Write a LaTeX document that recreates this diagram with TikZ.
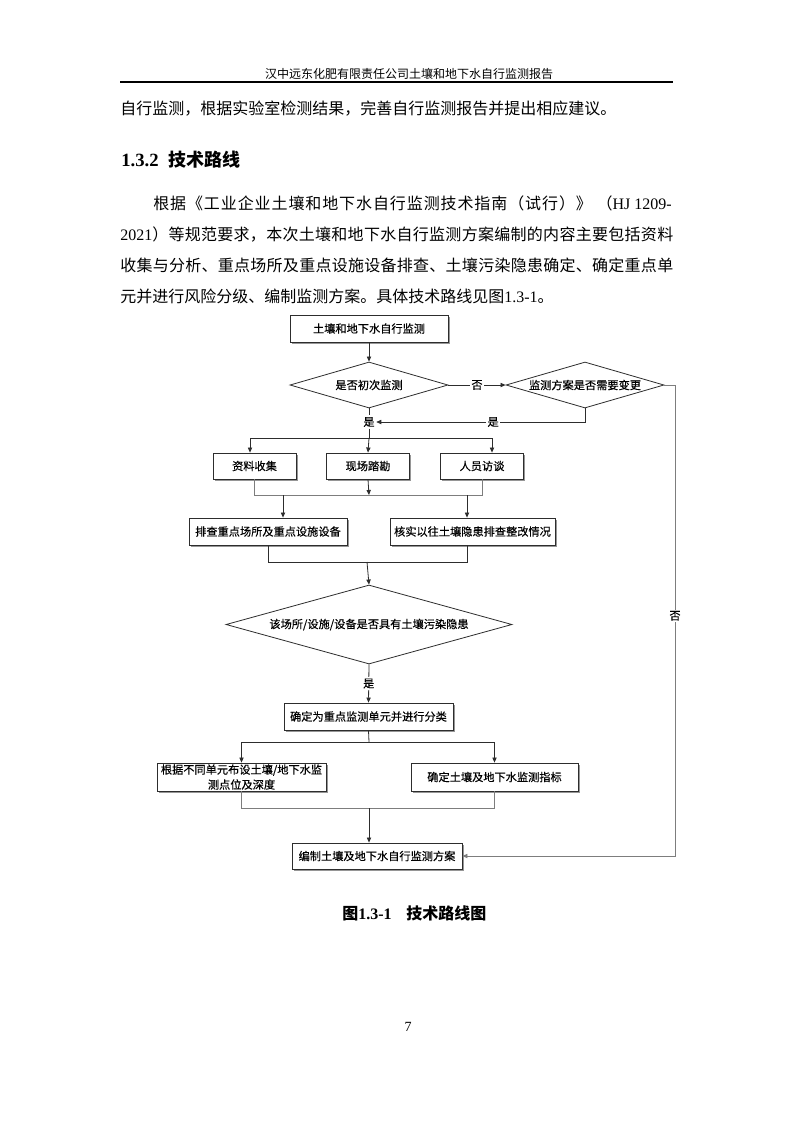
\documentclass[tikz,border=0pt]{standalone}
\usepackage{fontspec}
\setmainfont{Noto Sans CJK SC}
\newfontfamily\tnr{Liberation Serif}
\newfontfamily\chartfont[FakeBold=0.35]{Noto Sans CJK SC}
\usetikzlibrary{positioning,shapes.geometric,arrows.meta,shadows}
% even gaps between characters, for justified lines
\def\spreadfirst#1{#1\spreadnext}
\def\spreadnext#1{\ifx#1\relax\else\hskip 0pt plus 1fil#1\expandafter\spreadnext\fi}
\newcommand{\spreadtext}[1]{\spreadfirst#1\relax}
\newcommand{\justline}[2][414.75pt]{\makebox[#1][s]{#2}}
\definecolor{cline}{RGB}{45,45,45}
\definecolor{cgrey}{RGB}{125,125,125}
\definecolor{cshadow}{RGB}{150,150,150}

\begin{document}
\begin{tikzpicture}[x=0.75pt, y=-0.75pt,
    >={Triangle[length=3.8pt,width=3.2pt]},
    box/.style={draw=cline, fill=white, line width=0.6pt, inner sep=1pt,
                minimum height=20.25pt, font=\chartfont\fontsize{8.4pt}{11.25pt}\selectfont,
                drop shadow={shadow xshift=1.4pt, shadow yshift=-1.4pt, fill=cshadow, opacity=1}},
    decision/.style={diamond, draw=cline, fill=white, line width=0.6pt, inner sep=0pt,
                aspect=3.4, font=\chartfont\fontsize{8.4pt}{11.25pt}\selectfont},
    arr/.style={->, draw=cline, line width=0.6pt},
    link/.style={draw=cgrey, line width=0.6pt},
    lbl/.style={fill=white, inner sep=1pt, font=\chartfont\fontsize{8.4pt}{11.25pt}\selectfont},
    body/.style={inner sep=0pt, anchor=base west, font=\fontsize{12pt}{15pt}\selectfont},
  ]
  \fill[white] (0,0) rectangle (793,1122);
  \useasboundingbox (0,0) rectangle (793,1122);

  % page header
  \node[inner sep=0pt, anchor=base, font=\fontsize{9pt}{11pt}\selectfont] (header) at (409,78.5)
    {汉中远东化肥有限责任公司土壤和地下水自行监测报告};
  \draw[line width=1pt] (120,82) -- (673,82);

  % text
  \node[body] (prev) at (120,114.5) {自行监测，根据实验室检测结果，完善自行监测报告并提出相应建议。};
  \node[body, font=\fontsize{13.5pt}{16pt}\selectfont\bfseries] (title) at (121,166.8)
    {{\tnr\fontsize{14pt}{16pt}\selectfont 1.3.2}\hspace{7.5pt}技术路线};
  \node[body] (line1) at (153,209) {\justline[329pt]{\spreadtext{根据《工业企业土壤和地下水自行监测技术指南（试行）》}}};
  \node[body, anchor=base east] (line1b) at (672,209) {（{\tnr HJ 1209-}};
  \node[body] (line2) at (120,240) {\justline{{\tnr 2021}\spreadtext{）等规范要求，本次土壤和地下水自行监测方案编制的内容主要包括资料}}};
  \node[body] (line3) at (120,271) {\justline{\spreadtext{收集与分析、重点场所及重点设施设备排查、土壤污染隐患确定、确定重点单}}};
  \node[body] (line4) at (120,302) {元并进行风险分级、编制监测方案。具体技术路线见图{\tnr 1.3-1}。};

  % flow chart
  \node[box, minimum width=118.5pt] (start) at (369,328.5) {土壤和地下水自行监测};
  \node[decision, minimum width=118.5pt, minimum height=34.5pt] (first) at (369,385) {是否初次监测};
  \node[decision, minimum width=118.5pt, minimum height=34.5pt] (change) at (585,385) {监测方案是否需要变更};
  \node[box, minimum width=62.25pt, minimum height=19.5pt] (data) at (254.5,466) {资料收集};
  \node[box, minimum width=62.25pt, minimum height=19.5pt] (survey) at (368,466) {现场踏勘};
  \node[box, minimum width=62.25pt, minimum height=19.5pt] (talk) at (482,466) {人员访谈};
  \node[box, minimum width=118.5pt] (check) at (268,531.5) {排查重点场所及重点设施设备};
  \node[box, minimum width=123.75pt] (verify) at (472.5,531.5) {核实以往土壤隐患排查整改情况};
  \node[decision, minimum width=214.5pt, minimum height=59.25pt] (risk) at (369,624.5) {该场所/设施/设备是否具有土壤污染隐患};
  \node[box, minimum width=126.75pt] (unit) at (368.5,716.5) {确定为重点监测单元并进行分类};
  \node[box, minimum width=126.75pt, minimum height=21pt, inner sep=0.5pt, align=center] (point) at (241.5,777)
    {根据不同单元布设土壤/地下水监\\测点位及深度};
  \node[box, minimum width=125.25pt, minimum height=21pt] (index) at (494.5,777) {确定土壤及地下水监测指标};
  \node[box, minimum width=127.5pt, minimum height=19.5pt] (plan) at (377,856) {编制土壤及地下水自行监测方案};

  % junctions
  \node[lbl] (yesA) at (369,422) {是};
  \coordinate (split) at (369,438);
  \coordinate (sl) at (250,438);
  \coordinate (sr) at (492,438);
  \coordinate (mm) at (369,495);
  \coordinate (td) at (283,495);
  \coordinate (te) at (467,495);
  \coordinate (jn) at (367,562);
  \coordinate (fs) at (369,742);
  \coordinate (gj) at (369,808);
  \coordinate (loop) at (675,385);

  % connectors
  \draw[arr] (start.south) -- (first.north);
  \draw[arr] (first.east) -- node[lbl] {否} (change.west);
  \draw[arr] (change.south) |- node[lbl, pos=0.72] {是} (yesA.east);
  \draw[arr, -] (first.south) -- (yesA.north);
  \draw[arr, -] (yesA.south) -- (split);
  \draw[arr, -] (sl) -- (sr);
  \draw[arr] (sl) -- (sl |- data.north);
  \draw[arr] (split) -- (survey.north);
  \draw[arr] (sr) -- (sr |- talk.north);
  \draw[link] (data.south) |- (mm);
  \draw[link] (talk.south) |- (mm);
  \draw[arr] (survey.south) -- (mm);
  \draw[arr] (td) -- (td |- check.north);
  \draw[arr] (te) -- (te |- verify.north);
  \draw[arr, -] (check.south) |- (jn);
  \draw[arr, -] (te |- verify.south) |- (jn);
  \draw[arr] (jn) -- (risk.north);
  \draw[arr] (risk.south) -- node[lbl] {是} (unit.north);
  \draw[arr, -] (unit.south) -- (fs);
  \draw[arr] (fs) -| (point.north);
  \draw[arr] (fs) -| (index.north);
  \draw[link] (point.south) |- (gj);
  \draw[link] (index.south) |- (gj);
  \draw[arr] (gj) -- (gj |- plan.north);
  \draw[link, ->] (change.east) -- (loop) |- node[lbl, pos=0.245] {否} (plan.east);

  % caption and page number
  \node[body, font=\fontsize{12pt}{15pt}\selectfont\bfseries] (caption) at (342,919)
    {图{\tnr 1.3-1}\hspace{11pt}技术路线图};
  \node[inner sep=0pt, anchor=base, font=\tnr\fontsize{10.5pt}{12pt}\selectfont] (pageno) at (408,1031.5) {7};
\end{tikzpicture}
\end{document}
